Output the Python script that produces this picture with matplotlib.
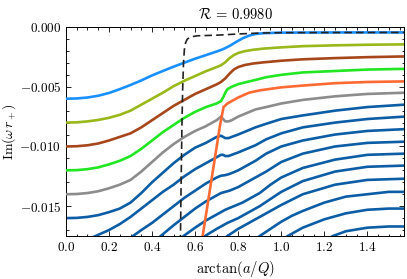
import numpy as np
import matplotlib
matplotlib.use("Agg")
import matplotlib.pyplot as plt
from matplotlib.ticker import MultipleLocator, FuncFormatter

plt.rcParams['mathtext.fontset'] = 'cm'
plt.rcParams['font.family'] = 'serif'
plt.rcParams['font.serif'] = ['cmr10', 'DejaVu Serif']

HALF_PI = np.pi / 2

# ---- data ----
lb_x = [0, 0.05, 0.1, 0.15, 0.2, 0.25, 0.3, 0.35, 0.4, 0.45, 0.5, 0.55, 0.6, 0.65, 0.7, 0.73, 0.76, 0.79, 0.82, 0.85, 0.88, 0.92, 1.0, 1.1, 1.3, HALF_PI]
lb_y = [-0.00600, -0.00598, -0.00590, -0.00575, -0.00552, -0.00520, -0.00485, -0.00447, -0.00405, -0.00368, -0.00332, -0.00298, -0.00265, -0.00235, -0.00205, -0.00185, -0.00158, -0.00125, -0.00095, -0.00072, -0.00058, -0.00051, -0.00047, -0.00046, -0.00045, -0.00045]

yg_x = [0, 0.05, 0.1, 0.15, 0.2, 0.25, 0.3, 0.35, 0.4, 0.45, 0.5, 0.55, 0.6, 0.65, 0.7, 0.72, 0.74, 0.76, 0.78, 0.80, 0.83, 0.87, 0.92, 1.0, 1.1, 1.25, 1.4, HALF_PI]
yg_y = [-0.0080, -0.00798, -0.0079, -0.00778, -0.0076, -0.00735, -0.0070, -0.0065, -0.0060, -0.0055, -0.00495, -0.0045, -0.0041, -0.0037, -0.00335, -0.0032, -0.00295, -0.0026, -0.00235, -0.00217, -0.00202, -0.0019, -0.0018, -0.0017, -0.0016, -0.00153, -0.00148, -0.00145]

br_x = [0, 0.05, 0.1, 0.15, 0.2, 0.25, 0.3, 0.35, 0.4, 0.45, 0.5, 0.55, 0.6, 0.65, 0.7, 0.72, 0.74, 0.76, 0.78, 0.80, 0.83, 0.87, 0.92, 1.0, 1.1, 1.25, 1.4, HALF_PI]
br_y = [-0.0100, -0.00998, -0.0099, -0.00975, -0.0095, -0.0092, -0.0089, -0.0084, -0.0078, -0.0072, -0.0066, -0.0061, -0.0056, -0.0052, -0.0048, -0.0046, -0.0043, -0.0039, -0.00355, -0.00335, -0.00318, -0.00305, -0.00295, -0.00282, -0.0027, -0.0026, -0.00252, -0.00246]

gr_x = [0, 0.05, 0.1, 0.15, 0.2, 0.25, 0.3, 0.35, 0.4, 0.45, 0.5, 0.55, 0.6, 0.65, 0.7, 0.72, 0.73, 0.74, 0.75, 0.77, 0.80, 0.84, 0.88, 0.93, 1.0, 1.1, 1.25, 1.4, HALF_PI]
gr_y = [-0.0120, -0.01198, -0.0119, -0.01175, -0.0115, -0.0112, -0.0108, -0.0102, -0.0095, -0.0088, -0.0082, -0.0076, -0.0071, -0.0067, -0.0064, -0.0062, -0.0059, -0.0055, -0.0052, -0.0050, -0.00478, -0.0046, -0.00443, -0.0042, -0.0040, -0.0038, -0.00368, -0.00356, -0.0035]

or_x = [0.628, 0.635, 0.655, 0.675, 0.695, 0.715, 0.732, 0.75, 0.77, 0.80, 0.85, 0.90, 1.0, 1.1, 1.25, 1.4, HALF_PI]
or_y = [-0.0184, -0.0175, -0.0152, -0.0129, -0.0106, -0.0083, -0.0067, -0.0064, -0.0062, -0.0059, -0.0055, -0.0053, -0.00505, -0.0049, -0.0047, -0.0046, -0.00455]

grid_x = [0, 0.05, 0.1, 0.15, 0.2, 0.25, 0.3, 0.35, 0.4, 0.45, 0.5, 0.55, 0.6, 0.65, 0.7, 0.72, 0.73, 0.74, 0.755, 0.77, 0.80, 0.84, 0.88, 0.93, 1.0, 1.1, 1.25, 1.4, HALF_PI]
gy_x = grid_x
gy_y = [-0.0140, -0.01398, -0.0139, -0.01375, -0.0135, -0.0132, -0.0128, -0.0121, -0.0113, -0.0105, -0.0098, -0.0092, -0.0087, -0.0083, -0.0078, -0.0075, -0.0077, -0.0079, -0.0079, -0.0078, -0.0075, -0.0072, -0.0069, -0.0067, -0.0064, -0.0061, -0.0058, -0.0056, -0.0055]

blue_x = [
    grid_x,
    grid_x,
    [0.2, 0.25, 0.3, 0.35, 0.4, 0.45, 0.5, 0.55, 0.6, 0.65, 0.7, 0.72, 0.74, 0.76, 0.80, 0.84, 0.88, 0.93, 1.0, 1.1, 1.25, 1.4, HALF_PI],
    [0.34, 0.38, 0.42, 0.46, 0.5, 0.55, 0.6, 0.65, 0.7, 0.72, 0.74, 0.76, 0.80, 0.84, 0.88, 0.93, 1.0, 1.1, 1.25, 1.4, HALF_PI],
    [0.45, 0.5, 0.55, 0.6, 0.65, 0.7, 0.74, 0.78, 0.82, 0.86, 0.9, 0.95, 1.0, 1.1, 1.25, 1.4, HALF_PI],
    [0.55, 0.6, 0.65, 0.7, 0.75, 0.80, 0.85, 0.9, 0.95, 1.0, 1.1, 1.25, 1.4, HALF_PI],
    [0.66, 0.70, 0.75, 0.80, 0.85, 0.9, 0.95, 1.0, 1.1, 1.25, 1.4, HALF_PI],
    [0.80, 0.85, 0.90, 0.95, 1.0, 1.05, 1.1, 1.2, 1.3, 1.4, 1.5, HALF_PI],
    [0.92, 0.98, 1.03, 1.1, 1.2, 1.3, 1.4, 1.5, HALF_PI],
    [1.12, 1.18, 1.24, 1.3, 1.4, 1.5, HALF_PI],
]
blue_y = [
    [-0.0160, -0.01598, -0.0159, -0.01575, -0.0155, -0.0152, -0.0147, -0.0139, -0.0130, -0.0122, -0.0114, -0.0107, -0.0101, -0.0097, -0.0092, -0.0091, -0.0092, -0.0093, -0.0093, -0.0092, -0.0090, -0.0087, -0.0084, -0.0081, -0.0077, -0.0074, -0.0070, -0.0067, -0.0065],
    [-0.0180, -0.01795, -0.0178, -0.0174, -0.0170, -0.0165, -0.0159, -0.0152, -0.0145, -0.0138, -0.0132, -0.0125, -0.0119, -0.0114, -0.0109, -0.0107, -0.0107, -0.0108, -0.0108, -0.0107, -0.0105, -0.0102, -0.0099, -0.0094, -0.0089, -0.0084, -0.0080, -0.0077, -0.0075],
    [-0.0186, -0.0181, -0.01765, -0.0170, -0.0164, -0.0157, -0.0150, -0.0143, -0.0137, -0.0131, -0.0126, -0.01245, -0.0124, -0.0123, -0.0120, -0.0116, -0.0112, -0.0106, -0.0100, -0.0095, -0.0090, -0.0087, -0.00855],
    [-0.0189, -0.0184, -0.0178, -0.0172, -0.0166, -0.0159, -0.0152, -0.0146, -0.0141, -0.0139, -0.0138, -0.0137, -0.0134, -0.0130, -0.0126, -0.0121, -0.0113, -0.0106, -0.0100, -0.0097, -0.0096],
    [-0.0189, -0.0182, -0.01745, -0.0168, -0.0162, -0.0157, -0.0153, -0.0150, -0.0147, -0.0143, -0.0139, -0.0132, -0.0126, -0.0118, -0.0111, -0.0107, -0.0106],
    [-0.0188, -0.0181, -0.01745, -0.0169, -0.0164, -0.0160, -0.0155, -0.0150, -0.0144, -0.0138, -0.0129, -0.0121, -0.0117, -0.0116],
    [-0.0188, -0.0182, -0.0175, -0.0169, -0.0164, -0.0159, -0.0154, -0.0149, -0.0140, -0.0132, -0.0128, -0.0127],
    [-0.0188, -0.0182, -0.0175, -0.0169, -0.0163, -0.0158, -0.0154, -0.0147, -0.0142, -0.0140, -0.0138, -0.0138],
    [-0.0188, -0.0181, -0.0175, -0.0168, -0.0161, -0.0156, -0.0153, -0.0152, -0.0152],
    [-0.0186, -0.0181, -0.0175, -0.0171, -0.0168, -0.0167, -0.0167],
]

dash_x = [0.530, 0.532, 0.535, 0.539, 0.542, 0.546, 0.550, 0.556, 0.564, 0.58, 0.61, 0.70, 0.80, 0.90, 1.0, 1.2, HALF_PI]
dash_y = [-0.019, -0.0175, -0.013, -0.008, -0.0053, -0.0030, -0.0019, -0.0013, -0.0010, -0.00082, -0.00073, -0.00068, -0.00058, -0.0005, -0.00047, -0.00046, -0.00045]

title_text = r'$\mathcal{R}\,=\,0.9980$'

# ---- plot ----
fig = plt.figure(figsize=(4.07, 2.79), dpi=100)
ax = fig.add_axes([0.162, 0.154, 0.831, 0.749])

lw = 1.9
kw = dict(solid_joinstyle='round', solid_capstyle='round')
for bx, by in zip(blue_x, blue_y):
    ax.plot(bx, by, color='#0C5DA5', lw=lw, zorder=2, **kw)
ax.plot(gy_x, gy_y, color='#8C8C8C', lw=lw, zorder=3, **kw)
ax.plot(or_x, or_y, color='#FF6A33', lw=lw, zorder=4, **kw)
ax.plot(gr_x, gr_y, color='#22E622', lw=lw, zorder=3, **kw)
ax.plot(br_x, br_y, color='#A6461A', lw=lw, zorder=3, **kw)
ax.plot(yg_x, yg_y, color='#99B81A', lw=lw, zorder=3, **kw)
ax.plot(lb_x, lb_y, color='#1A90FF', lw=lw, zorder=3, **kw)
ax.plot(dash_x, dash_y, color='#222222', lw=1.2, ls=(0, (4.5, 2.5)), zorder=5)

ax.set_xlim(0, HALF_PI)
ax.set_ylim(-0.0175, 0.0)
ax.xaxis.set_major_locator(MultipleLocator(0.2))
ax.xaxis.set_minor_locator(MultipleLocator(0.05))
ax.yaxis.set_major_locator(MultipleLocator(0.005))
ax.yaxis.set_minor_locator(MultipleLocator(0.001))
ax.xaxis.set_major_formatter(FuncFormatter(lambda v, p: r'$%.1f$' % v))
ax.yaxis.set_major_formatter(FuncFormatter(lambda v, p: r'$%.3f$' % (0.0 if abs(v) < 1e-12 else v)))
ax.tick_params(which='both', direction='in', top=True, right=True, width=0.6, labelsize=9.5)
ax.tick_params(which='major', length=3.5)
ax.tick_params(which='minor', length=1.8)
for s in ax.spines.values():
    s.set_linewidth(0.7)

ax.set_xlabel(r'$\arctan(a/Q)$', fontsize=10.5, labelpad=4)
ax.set_ylabel(r'$\mathrm{Im}(\omega\, r_+)$', fontsize=10, labelpad=1)
ax.set_title(title_text, fontsize=10.5, pad=6)

fig.savefig('out.png', dpi=100)
